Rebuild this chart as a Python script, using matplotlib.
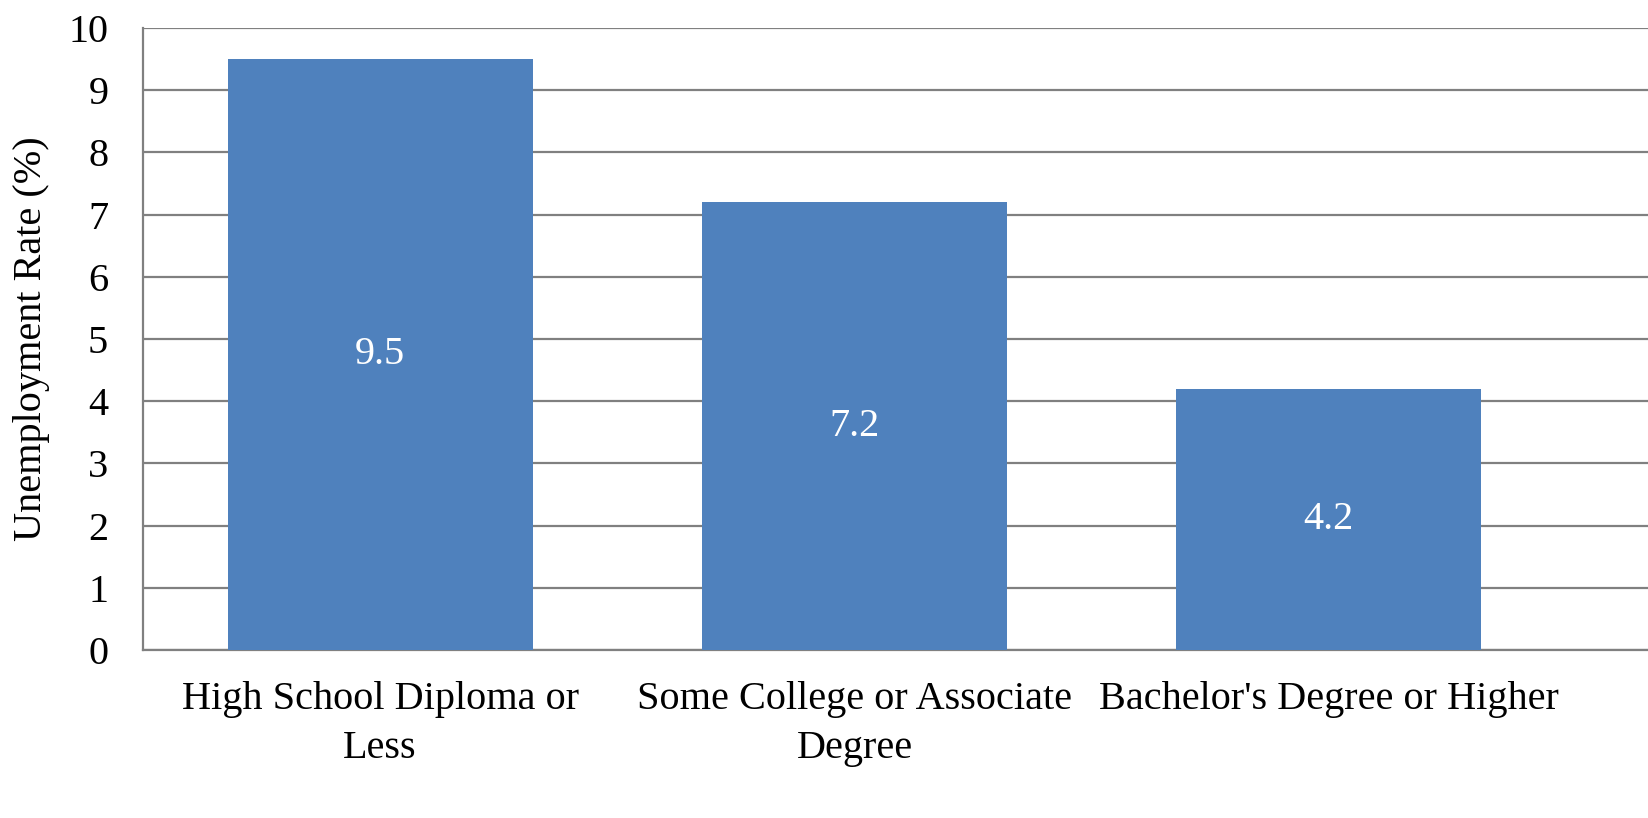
import matplotlib.pyplot as plt
import numpy as np

categories = ["High School Diploma or\nLess", "Some College or Associate\nDegree",
              "Bachelor's Degree or Higher"]
rates = [9.5, 7.2, 4.2]
yticks = [0, 1, 2, 3, 4, 5, 6, 7, 8, 9, 10]

plt.rcParams['font.family'] = ['Liberation Serif', 'DejaVu Serif']

fig = plt.figure(figsize=(16.48, 8.18), dpi=100)
ax = fig.add_axes([143 / 1648, 168 / 818, 1505 / 1648, 622 / 818])

x = np.arange(len(categories))
bars = ax.bar(x, rates, width=0.643, color='#4F81BD', zorder=3)
for b, v in zip(bars, rates):
    ax.text(b.get_x() + b.get_width() / 2, v / 2, str(v), color='white',
            ha='center', va='center', fontsize=29, zorder=4)

ax.set_xlim(-0.5, 2.5 + 82 / 474.5)
ax.set_ylim(0, 10)
ax.set_yticks(yticks)
ax.set_xticks(x)
ax.set_xticklabels(categories, fontsize=29, linespacing=1.45)
ax.tick_params(axis='y', labelsize=29, length=0, pad=25)
ax.tick_params(axis='x', length=0, pad=22)
ax.grid(axis='y', color='#808080', linewidth=1.6, zorder=0)
for s in ['top', 'right']:
    ax.spines[s].set_visible(False)
for s in ['left', 'bottom']:
    ax.spines[s].set_color('#808080')
    ax.spines[s].set_linewidth(1.6)
ax.set_ylabel('Unemployment Rate (%)', fontsize=29, labelpad=13)

fig.savefig('out.png', dpi=100)
